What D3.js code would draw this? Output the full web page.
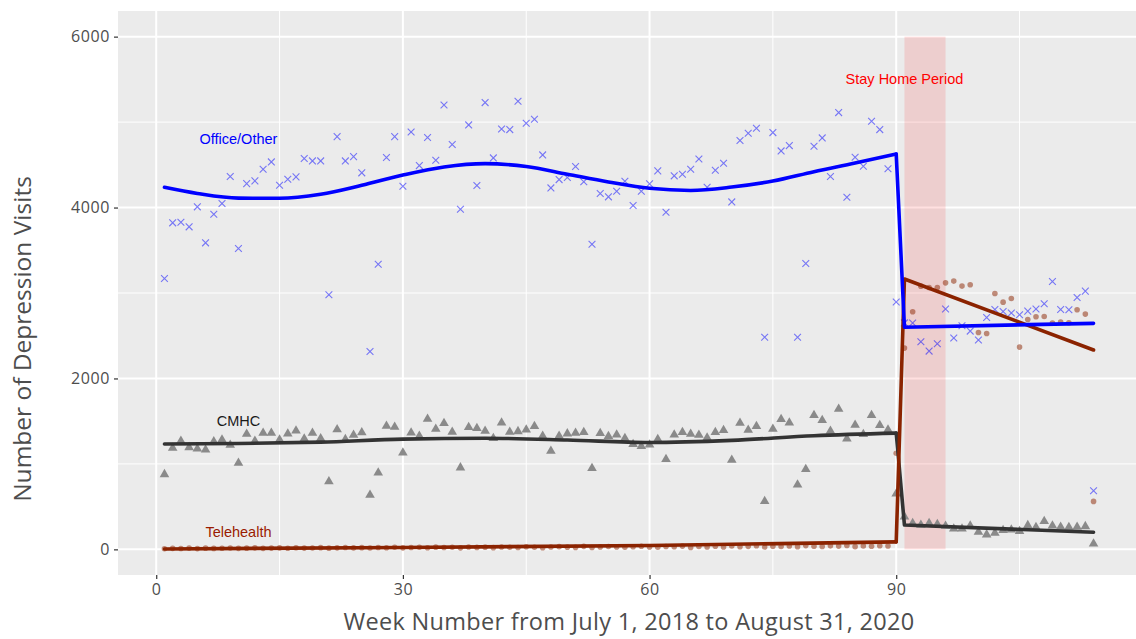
<!DOCTYPE html>
<html>
<head>
<meta charset="utf-8">
<script src="https://cdn.jsdelivr.net/npm/d3@7"></script>
<style>
  body { margin: 0; background: #fff; }
  text { font-family: "Open Sans", sans-serif; }
</style>
</head>
<body>
<div id="chart-area"></div>
<script>
// weekly counts, week 1 .. 114
var weeks = d3.range(1, 115);

var office = [3170,3821,3828,3774,4008,3587,3922,4047,4363,3520,
  4280,4312,4448,4534,4261,4331,4359,4573,4546,4546,
  2979,4830,4546,4596,4406,2316,3337,4585,4830,4249,
  4885,4491,4819,4553,5201,4737,3980,4967,4257,5228,
  4581,4920,4912,5244,4986,5033,4616,4230,4327,4351,
  4480,4301,3571,4164,4125,4191,4308,4023,4191,4277,
  4429,3945,4371,4389,4448,4569,4238,4436,4518,4066,
  4784,4869,4928,2483,4877,4663,4725,2483,3345,4717,
  4815,4363,5111,4121,4588,4483,5009,4912,4453,2894,
  2650,2648,2429,2320,2406,2812,2473,2616,2554,2449,
  2713,2807,2784,2765,2745,2788,2812,2874,3135,2807,
  2804,2947,3022,686];

var cmhc = [877,1186,1268,1193,1178,1166,1263,1283,1221,1011,
  1350,1268,1361,1361,1283,1353,1388,1295,1361,1298,
  795,1403,1287,1338,1368,636,897,1443,1432,1131,
  1365,1327,1526,1408,1475,1373,956,1428,1417,1385,
  1300,1482,1373,1381,1400,1440,1327,1151,1327,1354,
  1361,1370,949,1358,1323,1342,1300,1229,1206,1225,
  1288,1054,1342,1370,1350,1338,1307,1370,1393,1046,
  1479,1397,1440,562,1408,1522,1482,757,937,1569,
  1510,1385,1643,1295,1455,1346,1569,1452,1400,651,
  382,305,285,305,293,273,242,242,277,203,
  172,191,223,230,211,281,258,328,277,262,
  258,262,269,65];

var tele = [8,12,10,15,9,14,11,13,16,12,
  14,18,12,15,17,13,19,15,16,20,
  14,18,22,17,20,16,21,19,24,18,
  22,25,19,26,21,24,18,27,23,26,
  20,28,24,22,30,25,19,27,32,26,
  23,35,21,29,33,27,24,31,36,28,
  25,34,30,38,22,33,29,36,27,40,
  31,35,42,28,37,33,39,30,44,36,
  34,41,38,45,32,40,37,43,39,1124,
  2355,2780,3080,3064,3064,3119,3139,3081,3096,2538,
  2526,2994,2893,2936,2367,2690,2722,2725,2648,2660,
  2652,2804,2753,561];

// fitted trend lines (week, value): smooth before, straight after
var officeFitPre = [[1,4237],[5,4165],[10,4110],[15,4108],[20,4155],[25,4260],[30,4380],
  [35,4475],[40,4514],[45,4480],[50,4390],[55,4300],[60,4225],[65,4200],[70,4240],
  [75,4310],[80,4420],[85,4520],[90,4626]];
var officeFitPost = [[91,2600],[114,2645]];
var cmhcFitPre = [[1,1233],[10,1238],[20,1255],[30,1290],[40,1300],[50,1280],[60,1250],
  [70,1275],[80,1330],[90,1360]];
var cmhcFitPost = [[91,285],[114,200]];
var teleFitPre = [[1,5],[30,22],[60,45],[90,88]];
var teleFitPost = [[91,3164],[114,2333]];

var stayHome = [91, 96];
var xTicks = [0, 30, 60, 90];
var yTicks = [0, 2000, 4000, 6000];

// set the dimensions and margins of the graph
var margin = {top: 11, right: -4, bottom: 64, left: 118},
  width = 1136 - margin.left - margin.right,
  height = 639 - margin.top - margin.bottom;

var svg = d3.select("#chart-area")
  .append("svg")
  .attr("width", 1136)
  .attr("height", 639)
  .append("g")
  .attr("transform", `translate(${margin.left}, ${margin.top})`);

var x = d3.scaleLinear().domain([-4.65, 119.65]).range([0, width]);
var y = d3.scaleLinear().domain([-300, 6300]).range([height, 0]);

// panel
svg.append("rect")
  .attr("width", width).attr("height", height)
  .attr("fill", "#ebebeb");

// minor + major grid
svg.selectAll(".xminor").data([15, 45, 75, 105]).enter().append("line")
  .attr("x1", d => x(d)).attr("x2", d => x(d)).attr("y1", 0).attr("y2", height)
  .attr("stroke", "#fff").attr("stroke-width", 1);
svg.selectAll(".yminor").data([1000, 3000, 5000]).enter().append("line")
  .attr("x1", 0).attr("x2", width).attr("y1", d => y(d)).attr("y2", d => y(d))
  .attr("stroke", "#fff").attr("stroke-width", 1);
svg.selectAll(".xmajor").data(xTicks).enter().append("line")
  .attr("x1", d => x(d)).attr("x2", d => x(d)).attr("y1", 0).attr("y2", height)
  .attr("stroke", "#fff").attr("stroke-width", 2);
svg.selectAll(".ymajor").data(yTicks).enter().append("line")
  .attr("x1", 0).attr("x2", width).attr("y1", d => y(d)).attr("y2", d => y(d))
  .attr("stroke", "#fff").attr("stroke-width", 2);

// stay home shading
svg.append("rect")
  .attr("x", x(stayHome[0]))
  .attr("width", x(stayHome[1]) - x(stayHome[0]))
  .attr("y", y(6000))
  .attr("height", y(0) - y(6000))
  .attr("fill", "red").attr("fill-opacity", 0.12);

// points
svg.append("g").selectAll("path").data(weeks).enter().append("path")
  .attr("transform", (d, i) => `translate(${x(d)}, ${y(office[i])})`)
  .attr("d", "M-3.4,-3.4L3.4,3.4M-3.4,3.4L3.4,-3.4")
  .attr("stroke", "blue").attr("stroke-opacity", 0.5).attr("stroke-width", 1.1)
  .attr("fill", "none");

svg.append("g").selectAll("path").data(weeks).enter().append("path")
  .attr("transform", (d, i) => `translate(${x(d)}, ${y(cmhc[i])})`)
  .attr("d", d3.symbol().type(d3.symbolTriangle).size(40))
  .attr("fill", "#8a8a8a");

svg.append("g").selectAll("circle").data(weeks).enter().append("circle")
  .attr("cx", d => x(d))
  .attr("cy", (d, i) => y(tele[i]))
  .attr("r", 2.8)
  .attr("fill", "#8b2300").attr("fill-opacity", 0.5);

// trend lines
var smooth = d3.line().x(d => x(d[0])).y(d => y(d[1])).curve(d3.curveMonotoneX);
var straight = d3.line().x(d => x(d[0])).y(d => y(d[1]));

[[cmhcFitPre, cmhcFitPost, "#333333"],
 [teleFitPre, teleFitPost, "#8b2300"],
 [officeFitPre, officeFitPost, "#0000ff"]].forEach(function(s) {
  var g = svg.append("g")
    .attr("fill", "none")
    .attr("stroke", s[2])
    .attr("stroke-width", 3.6)
    .attr("stroke-linejoin", "round")
    .attr("stroke-linecap", "round");
  g.append("path").datum(s[0]).attr("d", smooth);
  g.append("path").datum([s[0][s[0].length - 1]].concat(s[1])).attr("d", straight);
});

// labels in the panel
var labels = [
  {t: "Office/Other", wk: 10, v: 4800, c: "#0000ff"},
  {t: "CMHC", wk: 10, v: 1500, c: "#1a1a1a"},
  {t: "Telehealth", wk: 10, v: 200, c: "#9a1b00"},
  {t: "Stay Home Period", wk: 91, v: 5500, c: "#ff0000"}
];
svg.selectAll(".lab").data(labels).enter().append("text")
  .attr("x", d => x(d.wk))
  .attr("y", d => y(d.v))
  .attr("dy", "0.35em")
  .attr("text-anchor", "middle")
  .style("font-family", "'Liberation Sans', Arial, sans-serif")
  .attr("font-size", "14.5px")
  .attr("fill", d => d.c)
  .text(d => d.t);

// axes
var xAxis = d3.axisBottom(x).tickValues(xTicks).tickSize(4).tickPadding(5);
var yAxis = d3.axisLeft(y).tickValues(yTicks).tickSize(4).tickPadding(4)
  .tickFormat(d3.format("d"));

var xAxisGroup = svg.append("g").attr("transform", `translate(0, ${height})`).call(xAxis);
var yAxisGroup = svg.append("g").call(yAxis);
[xAxisGroup, yAxisGroup].forEach(function(g) {
  g.select(".domain").remove();
  g.selectAll(".tick line").attr("stroke", "#333").attr("stroke-width", 1.2);
  g.selectAll(".tick text").attr("fill", "#4d4d4d").attr("font-size", "16px")
    .style("font-family", "'Open Sans', sans-serif")
    .style("letter-spacing", "0.6px");
});

svg.append("text")
  .attr("x", width / 2)
  .attr("y", height + 55)
  .attr("text-anchor", "middle")
  .attr("font-size", "23.5px")
  .style("letter-spacing", "0.3px")
  .attr("fill", "#4d4d4d")
  .text("Week Number from July 1, 2018 to August 31, 2020");

svg.append("text")
  .attr("transform", "rotate(-90)")
  .attr("x", -328)
  .attr("y", -87)
  .attr("text-anchor", "middle")
  .attr("font-size", "24.5px")
  .attr("fill", "#4d4d4d")
  .text("Number of Depression Visits");
</script>
</body>
</html>
